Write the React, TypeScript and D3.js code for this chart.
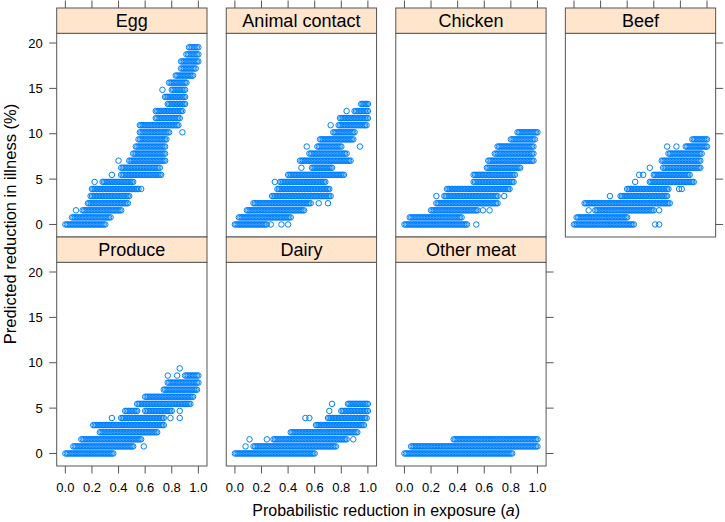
import React from "react";
import * as d3 from "d3";

// ---- data: each run is [y (%), x start, x end]; a single point has x start == x end ----
const panelNames = ["Egg", "Animal contact", "Chicken", "Beef", "Produce", "Dairy", "Other meat"];

const eggRuns: number[][] = [
  [0, 0, 0.30], [0.78, 0.05, 0.34], [1.56, 0.08, 0.08], [1.56, 0.13, 0.42],
  [2.34, 0.17, 0.47], [3.13, 0.19, 0.48], [3.91, 0.20, 0.55], [3.91, 0.57, 0.57],
  [4.69, 0.22, 0.22], [4.69, 0.28, 0.51], [5.47, 0.35, 0.35], [5.47, 0.42, 0.72],
  [6.25, 0.42, 0.71], [7.03, 0.40, 0.40], [7.03, 0.48, 0.75], [7.81, 0.51, 0.75],
  [8.59, 0.53, 0.75], [9.38, 0.55, 0.76], [10.16, 0.56, 0.78], [10.16, 0.88, 0.88],
  [10.94, 0.56, 0.85], [11.72, 0.68, 0.86], [12.5, 0.68, 0.88], [13.28, 0.77, 0.90],
  [14.06, 0.75, 0.90], [14.84, 0.73, 0.73], [14.84, 0.80, 0.90], [15.63, 0.78, 0.91],
  [16.41, 0.83, 0.96], [17.19, 0.87, 0.98], [17.97, 0.87, 1.0], [18.75, 0.91, 1.0],
  [19.53, 0.93, 1.0],
];

const animalRuns: number[][] = [
  [0, 0, 0.24], [0, 0.27, 0.27], [0, 0.35, 0.35], [0, 0.40, 0.40],
  [0.78, 0.03, 0.42], [1.56, 0.09, 0.52], [2.34, 0.14, 0.57], [2.34, 0.63, 0.63],
  [2.34, 0.70, 0.70], [3.13, 0.28, 0.72], [3.91, 0.32, 0.71], [4.69, 0.30, 0.30],
  [4.69, 0.34, 0.68], [5.47, 0.40, 0.82], [6.25, 0.50, 0.50], [6.25, 0.58, 0.73],
  [7.03, 0.49, 0.87], [7.81, 0.56, 0.84], [8.59, 0.54, 0.54], [8.59, 0.62, 0.80],
  [8.59, 0.94, 0.94], [9.38, 0.64, 0.89], [10.16, 0.74, 0.90], [10.94, 0.72, 0.72],
  [10.94, 0.78, 0.99], [11.72, 0.79, 1.0], [12.5, 0.84, 0.84], [12.5, 0.90, 1.0],
  [13.28, 0.95, 1.0],
];

const chickenRuns: number[][] = [
  [0, 0, 0.47], [0, 0.54, 0.54], [0.78, 0.04, 0.43], [1.56, 0.20, 0.55],
  [1.56, 0.59, 0.59], [1.56, 0.64, 0.64], [2.34, 0.24, 0.70], [3.13, 0.24, 0.24],
  [3.13, 0.30, 0.70], [3.13, 0.75, 0.75], [3.91, 0.32, 0.79], [4.69, 0.52, 0.82],
  [5.47, 0.52, 0.83], [6.25, 0.62, 0.87], [7.03, 0.63, 0.97], [7.81, 0.68, 0.97],
  [8.59, 0.70, 0.97], [9.38, 0.80, 0.98], [10.16, 0.85, 1.0],
];

const beefRuns: number[][] = [
  [0, 0, 0.45], [0, 0.61, 0.61], [0, 0.64, 0.64], [0.78, 0.02, 0.40],
  [1.56, 0.11, 0.11], [1.56, 0.16, 0.60], [1.56, 0.64, 0.64], [2.34, 0.08, 0.72],
  [3.13, 0.27, 0.27], [3.13, 0.35, 0.70], [3.91, 0.40, 0.71], [3.91, 0.79, 0.79],
  [3.91, 0.81, 0.81], [4.69, 0.46, 0.46], [4.69, 0.57, 0.90], [5.47, 0.49, 0.49],
  [5.47, 0.52, 0.52], [5.47, 0.60, 0.87], [6.25, 0.57, 0.57], [6.25, 0.67, 0.95],
  [7.03, 0.66, 0.95], [7.81, 0.71, 0.96], [8.59, 0.70, 0.70], [8.59, 0.77, 0.77],
  [8.59, 0.84, 1.0], [9.38, 0.89, 1.0],
];

const produceRuns: number[][] = [
  [0, 0, 0.36], [0.78, 0.06, 0.51], [0.78, 0.59, 0.59], [1.56, 0.12, 0.57],
  [2.34, 0.26, 0.69], [3.13, 0.21, 0.74], [3.91, 0.35, 0.35], [3.91, 0.42, 0.74],
  [3.91, 0.79, 0.79], [3.91, 0.86, 0.86], [4.69, 0.45, 0.54], [4.69, 0.60, 0.80],
  [4.69, 0.86, 0.86], [5.47, 0.54, 0.94], [6.25, 0.60, 0.96], [7.03, 0.74, 0.99],
  [7.81, 0.77, 1.0], [8.59, 0.77, 0.77], [8.59, 0.84, 0.84], [8.59, 0.90, 1.0],
  [9.38, 0.86, 0.86],
];

const dairyRuns: number[][] = [
  [0, 0, 0.60], [0.78, 0.08, 0.08], [0.78, 0.14, 0.76], [1.56, 0.11, 0.11],
  [1.56, 0.24, 0.24], [1.56, 0.29, 0.84], [1.56, 0.89, 0.89], [2.34, 0.42, 0.92],
  [3.13, 0.61, 0.97], [3.91, 0.53, 0.53], [3.91, 0.56, 0.56], [3.91, 0.70, 0.99],
  [4.69, 0.71, 0.71], [4.69, 0.80, 1.0], [5.47, 0.73, 0.73], [5.47, 0.85, 1.0],
];

const otherMeatRuns: number[][] = [
  [0, 0, 0.81], [0.78, 0.05, 1.0], [1.56, 0.37, 1.0],
];

const panelRuns = [eggRuns, animalRuns, chickenRuns, beefRuns, produceRuns, dairyRuns, otherMeatRuns];

const xTicks = [0, 0.2, 0.4, 0.6, 0.8, 1.0];
const yTicks = [0, 5, 10, 15, 20];

// ---- layout ----
const W = 725;
const H = 522;
const colLeft0 = 56.7;
const colStep = 169.55;
const panelW = 150.3;
const rowTop0 = 8;
const rowStep = 229;
const stripH = 25.3;
const panelH = 203.7;
const tickLen = 7.5;
const borderCol = "#555555";
const pointCol = "#0080ff";
const stripFill = "#ffe5cc";
const font = "'Liberation Sans', Arial, Helvetica, sans-serif";
const runStep = 0.011;

const xScaleBase = d3.scaleLinear().domain([-0.065, 1.065]).range([0, panelW]);
const yScaleBase = d3.scaleLinear().domain([-1.38, 21.07]).range([panelH, 0]);

function runPoints(runs: number[][]) {
  const pts: [number, number][] = [];
  runs.forEach(([y, x0, x1]) => {
    const n = Math.max(1, Math.round((x1 - x0) / runStep) + 1);
    for (let i = 0; i < n; i++) {
      const x = n === 1 ? x0 : x0 + ((x1 - x0) * i) / (n - 1);
      pts.push([x, y]);
    }
  });
  return pts;
}

export default function App() {
  const panels = panelNames.map((name, i) => {
    const row = i < 4 ? 0 : 1;
    const col = i < 4 ? i : i - 4;
    const left = colLeft0 + col * colStep;
    const stripTop = rowTop0 + row * rowStep;
    const top = stripTop + stripH;
    const lastInRow = (row === 0 && col === 3) || (row === 1 && col === 2);
    const pts = runPoints(panelRuns[i]);
    return (
      <g key={name}>
        <g transform={`translate(${left},${top})`}>
          {pts.map(([x, y], k) => (
            <circle
              key={k}
              cx={xScaleBase(x)}
              cy={yScaleBase(y)}
              r={2.75}
              fill="none"
              stroke={pointCol}
              strokeWidth={1}
            />
          ))}
          <rect x={0} y={0} width={panelW} height={panelH} fill="none" stroke={borderCol} strokeWidth={1} />
        </g>
        <rect x={left} y={stripTop} width={panelW} height={stripH} fill={stripFill} stroke={borderCol} strokeWidth={1} />
        <text
          x={left + panelW / 2}
          y={stripTop + stripH / 2 + 6.3}
          textAnchor="middle"
          fontFamily={font}
          fontSize={18}
          fill="#000"
        >
          {name}
        </text>
        {row === 0 &&
          xTicks.map((t) => (
            <line
              key={`tt${t}`}
              x1={left + xScaleBase(t)}
              x2={left + xScaleBase(t)}
              y1={stripTop}
              y2={stripTop - tickLen}
              stroke={borderCol}
              strokeWidth={1}
            />
          ))}
        {row === 1 &&
          xTicks.map((t) => (
            <g key={`bt${t}`}>
              <line
                x1={left + xScaleBase(t)}
                x2={left + xScaleBase(t)}
                y1={top + panelH}
                y2={top + panelH + tickLen}
                stroke={borderCol}
                strokeWidth={1}
              />
              <text
                x={left + xScaleBase(t)}
                y={top + panelH + 25.5}
                textAnchor="middle"
                fontFamily={font}
                fontSize={13}
                fill="#000"
              >
                {d3.format(".1f")(t)}
              </text>
            </g>
          ))}
        {col === 0 &&
          yTicks.map((t) => (
            <g key={`lt${t}`}>
              <line
                x1={left}
                x2={left - tickLen}
                y1={top + yScaleBase(t)}
                y2={top + yScaleBase(t)}
                stroke={borderCol}
                strokeWidth={1}
              />
              <text
                x={left - 14}
                y={top + yScaleBase(t) + 4.6}
                textAnchor="end"
                fontFamily={font}
                fontSize={13}
                fill="#000"
              >
                {t}
              </text>
            </g>
          ))}
        {lastInRow &&
          yTicks.map((t) => (
            <line
              key={`rt${t}`}
              x1={left + panelW}
              x2={left + panelW + tickLen}
              y1={top + yScaleBase(t)}
              y2={top + yScaleBase(t)}
              stroke={borderCol}
              strokeWidth={1}
            />
          ))}
      </g>
    );
  });

  const plotLeft = colLeft0;
  const plotRight = colLeft0 + 3 * colStep + panelW;

  return (
    <svg
      width={W}
      height={H}
      viewBox={`0 0 ${W} ${H}`}
      style={{ position: "absolute", left: 0, top: 0, background: "#fff" }}
    >
      <rect x={0} y={0} width={W} height={H} fill="#fff" />
      {panels}
      <text
        x={(plotLeft + plotRight) / 2}
        y={516}
        textAnchor="middle"
        fontFamily={font}
        fontSize={16}
        fill="#000"
      >
        Probabilistic reduction in exposure (<tspan fontStyle="italic">a</tspan>)
      </text>
      <text
        transform={`translate(16,${224}) rotate(-90)`}
        textAnchor="middle"
        fontFamily={font}
        fontSize={16.5}
        fill="#000"
      >
        Predicted reduction in illness (%)
      </text>
    </svg>
  );
}
